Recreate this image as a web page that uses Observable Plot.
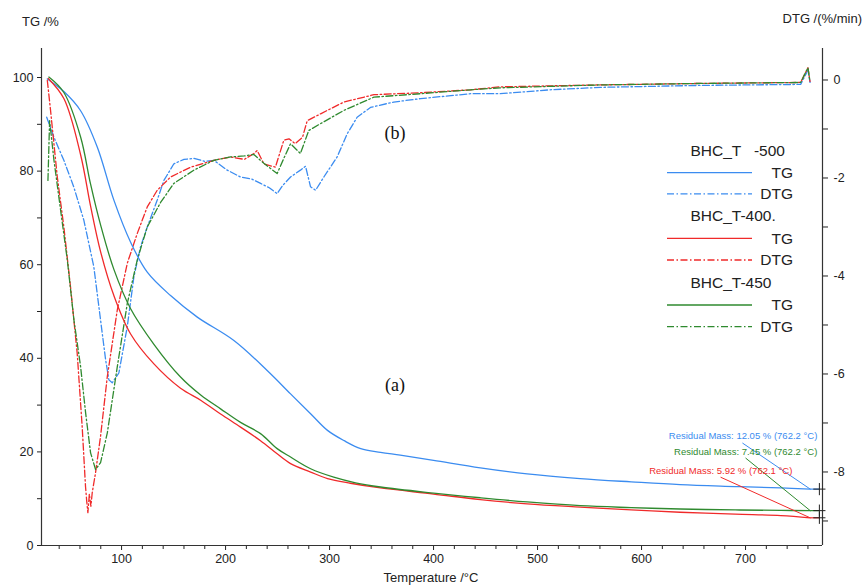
<!DOCTYPE html>
<html><head><meta charset="utf-8">
<script src="https://cdn.jsdelivr.net/npm/d3@7"></script>
<script src="https://cdn.jsdelivr.net/npm/@observablehq/plot@0.6"></script>
<style>
body{margin:0;background:#fff;}
#chart{width:865px;height:585px;}
</style></head><body><div id="chart"></div>
<script>
// ---- Data ----
const seriesNames = ["BHC_T   -500", "BHC_T-400.", "BHC_T-450"];
const seriesColors = ["#3b8cf0", "#f02a2a", "#2f8a2f"];

// TG curves (%), temperature in °C
const tgBlueT = [28.6, 44.5, 60.6, 76.7, 92.6, 108.7, 124.7, 147.1, 172.8, 208, 240, 262.5, 282, 298, 314, 330, 349, 368, 400, 445, 490, 541, 590, 637, 690, 734, 762.2];
const tgBlue  = [99.7, 97.0, 92.9, 85.1, 73.8, 64.8, 58.4, 53.4, 48.8, 43.8, 37.4, 32.4, 28.1, 24.6, 22.4, 20.7, 19.9, 19.3, 18.2, 16.6, 15.3, 14.3, 13.6, 13.0, 12.6, 12.3, 12.05];
const tgRedT  = [29.5, 44.5, 60.6, 70.2, 79.8, 92.6, 108.7, 131.1, 156.7, 176.4, 195.2, 214.4, 233.6, 249.6, 262.5, 281.8, 298, 320, 349, 400, 445, 490, 541, 590, 637, 690, 734, 762.1];
const tgRed   = [99.8, 95.5, 83.5, 72.5, 62.8, 53.4, 45.2, 38.8, 33.6, 31.0, 28.1, 25.3, 22.4, 19.6, 17.5, 15.7, 14.3, 13.3, 12.3, 11.0, 9.8, 8.9, 8.2, 7.6, 7.1, 6.7, 6.4, 5.92];
const tgGreenT = [30.1, 44.5, 60.6, 70.2, 79.8, 92.6, 108.7, 131.1, 156.7, 176.4, 195.2, 214.4, 233.6, 249.6, 262.5, 281.8, 304, 325, 349, 400, 445, 490, 541, 590, 637, 690, 734, 762.2];
const tgGreen  = [100.1, 96.8, 87.3, 77.2, 68.5, 59.0, 50.6, 43.0, 36.0, 32.1, 29.2, 26.3, 23.9, 20.7, 18.9, 16.4, 14.6, 13.4, 12.5, 11.2, 10.2, 9.3, 8.5, 8.1, 7.8, 7.6, 7.5, 7.45];

// DTG curves (%/min)
const dtgBlueT = [28, 35, 44.5, 54, 63.7, 73.3, 79.8, 84.6, 87.8, 91, 97.4, 105.5, 111.9, 118.3, 124.7, 134.3, 140.7, 150.3, 160, 169.5, 180, 188.8, 201.6, 214.4, 225, 233.7, 242, 249.6, 255, 262.5, 272, 276.9, 281.7, 286.6, 294.5, 307.3, 316.9, 326.5, 339.3, 361.7, 387.5, 435.6, 464, 512, 561, 657, 753, 760, 762];
const dtgBlue  = [-0.76, -1.17, -1.64, -2.18, -2.86, -3.81, -4.9, -5.7, -6.12, -6.18, -5.98, -5.03, -4.01, -3.4, -3.0, -2.45, -2.05, -1.71, -1.62, -1.6, -1.66, -1.64, -1.84, -1.98, -2.02, -2.11, -2.2, -2.32, -2.15, -1.98, -1.84, -1.76, -2.18, -2.25, -1.98, -1.57, -1.1, -0.76, -0.56, -0.45, -0.38, -0.28, -0.28, -0.2, -0.15, -0.11, -0.09, 0.2, -0.05];
const dtgRedT = [28.6, 31.7, 38.2, 44.5, 50.9, 57.3, 62.1, 65.3, 66.5, 67.6, 69, 70.5, 71.8, 75, 79.8, 86.3, 95.9, 105.5, 115.1, 124.7, 134.3, 147.1, 166.3, 188.8, 204.8, 218, 227.2, 230.4, 236.8, 247.9, 256, 261, 267, 274, 278.5, 291.4, 313.8, 342.7, 387.5, 435.6, 464, 512, 561, 657, 753, 760, 762];
const dtgRed  = [-0.01, -0.62, -1.98, -3.0, -4.22, -5.57, -7.07, -8.29, -8.6, -8.83, -8.45, -8.7, -8.42, -8.01, -7.27, -6.05, -4.69, -3.74, -3.13, -2.59, -2.25, -1.98, -1.78, -1.64, -1.57, -1.62, -1.5, -1.44, -1.71, -1.78, -1.23, -1.2, -1.3, -1.17, -0.83, -0.69, -0.45, -0.3, -0.26, -0.2, -0.14, -0.12, -0.1, -0.07, -0.05, 0.25, -0.03];
const dtgGreenT = [29.2, 30.8, 35, 41.4, 47.8, 54.2, 60.6, 65.4, 70.2, 75, 79.8, 86.3, 95.9, 105.5, 115.1, 124.7, 137.5, 150.3, 169.5, 188.8, 204.8, 218, 227.2, 236.8, 249.6, 256, 262.5, 272, 280, 291.4, 313.8, 342.7, 387.5, 435.6, 464, 512, 561, 657, 753, 760, 762];
const dtgGreen  = [-2.05, -0.83, -1.64, -2.66, -3.67, -4.9, -5.85, -6.79, -7.61, -7.95, -7.81, -7.2, -5.85, -4.56, -3.67, -3.0, -2.5, -2.11, -1.84, -1.64, -1.57, -1.55, -1.52, -1.7, -1.91, -1.6, -1.3, -1.5, -1.03, -0.89, -0.62, -0.35, -0.28, -0.2, -0.16, -0.13, -0.1, -0.07, -0.05, 0.25, -0.03];

// Residual mass annotations
const residualLabels = ["Residual Mass: 12.05 % (762.2 °C)", "Residual Mass: 5.92 % (762.1 °C)", "Residual Mass: 7.45 % (762.2 °C)"];
const residualT = [762.2, 762.1, 762.2];
const residualMass = [12.05, 5.92, 7.45];
const residualTextT = [769, 745, 769];
const residualTextY = [23.4, 15.9, 19.9];
const residualLeadT = [697, 676, 700];
const residualLeadY = [21.9, 14.6, 18.7];
const residualMarkT = 771;

// Ticks
const xMajor = [100, 200, 300, 400, 500, 600, 700];
const xMinor = d3.range(40, 761, 20).filter(v => v % 100 !== 0);
const yMajor = [0, 20, 40, 60, 80, 100];
const yMinor = [10, 30, 50, 70, 90];
const dtgMajor = [0, -2, -4, -6, -8];
const dtgMinor = [-1, -3, -5, -7, -9];

// DTG (right axis) -> left-axis equivalent
const toEq = d => 99.47 + 10.47 * d;
const fromEq = v => (v - 99.47) / 10.47;

const zip = (T, V) => T.map((t, i) => ({T: t, v: V[i]}));
const tgSets = [zip(tgBlueT, tgBlue), zip(tgRedT, tgRed), zip(tgGreenT, tgGreen)];
const dtgSets = [zip(dtgBlueT, dtgBlue), zip(dtgRedT, dtgRed), zip(dtgGreenT, dtgGreen)];
const resid = residualLabels.map((l, i) => ({
  label: l, color: seriesColors[i], T: residualT[i], m: residualMass[i],
  tT: residualTextT[i], tY: residualTextY[i], lT: residualLeadT[i], lY: residualLeadY[i]
}));

const font = "Liberation Sans, Arial, sans-serif";
const dash = "7,2.5,1.5,2.5";

const marks = [
  Plot.axisX(xMajor, {tickSize: 5, tickPadding: 4, label: null, fontSize: 12.5}),
  Plot.axisX(xMinor, {tickSize: 4, text: null, label: null}),
  Plot.axisY(yMajor, {anchor: "left", tickSize: 4, tickPadding: 4, label: null, fontSize: 12.5}),
  Plot.axisY(yMinor, {anchor: "left", tickSize: 4, text: null, label: null}),
  Plot.axisY(dtgMajor.map(toEq), {anchor: "right", tickSize: 5, tickPadding: 6, label: null, fontSize: 12.5,
    tickFormat: v => String(Math.round(fromEq(v)) || 0)}),
  Plot.axisY(dtgMinor.map(toEq), {anchor: "right", tickSize: 5, text: null, label: null}),
  Plot.ruleX([23, 774], {stroke: "#333", strokeWidth: 1.2}),
  Plot.ruleY([0], {stroke: "#333", strokeWidth: 1.2})
];
seriesColors.forEach((c, i) => {
  marks.push(Plot.line(dtgSets[i], {x: "T", y: d => toEq(d.v), stroke: c, strokeWidth: 1.3, strokeDasharray: dash}));
});
seriesColors.forEach((c, i) => {
  marks.push(Plot.line(tgSets[i], {x: "T", y: "v", stroke: c, strokeWidth: 1.3, curve: "catmull-rom"}));
});
marks.push(
  Plot.link(resid, {x1: "T", y1: "m", x2: residualMarkT, y2: "m", stroke: "color", strokeWidth: 1.2}),
  Plot.link(resid, {x1: "lT", y1: "lY", x2: "T", y2: "m", stroke: "color", strokeWidth: 1}),
  Plot.text(resid, {x: "tT", y: "tY", text: "label", fill: "color", textAnchor: "end", fontSize: 9.5}),
  Plot.dot(resid, {x: residualMarkT, y: "m", symbol: "plus", r: 4, stroke: "#222", strokeWidth: 1}),
  Plot.text(["(a)"], {x: 363, y: 34.2, text: d => d, fontSize: 18, fontFamily: "Liberation Serif, Times New Roman, serif", fill: "#111"}),
  Plot.text(["(b)"], {x: 363, y: 88, text: d => d, fontSize: 18, fontFamily: "Liberation Serif, Times New Roman, serif", fill: "#111"})
);

const plot = Plot.plot({
  width: 865, height: 585,
  marginLeft: 41, marginRight: 43, marginTop: 48, marginBottom: 40,
  x: {domain: [23, 774]},
  y: {domain: [0, 106.2]},
  color: {type: "identity"},
  style: {fontFamily: font, fontSize: "12.5px", color: "#222", background: "#fff", overflow: "visible"},
  marks
});
document.getElementById("chart").appendChild(plot);

// Axis titles and legend
const svg = d3.select(plot);
const ttl = svg.append("g").attr("font-family", font).attr("font-size", 13).attr("fill", "#222");
ttl.append("text").attr("x", 22).attr("y", 21).attr("dy", "0.35em").attr("text-anchor", "start").text("TG /%");
ttl.append("text").attr("x", 862).attr("y", 18).attr("dy", "0.35em").attr("text-anchor", "end").text("DTG /(%/min)");
ttl.append("text").attr("x", 431).attr("y", 577).attr("dy", "0.35em").attr("text-anchor", "middle").text("Temperature /°C");

const lg = svg.append("g").attr("font-family", font).attr("font-size", 15.5).attr("fill", "#222");
const rowsY = [[150.7, 172.7, 193.8], [216, 238.3, 260], [282.7, 305, 326.7]];
seriesNames.forEach((n, i) => {
  const [hy, ty, dy] = rowsY[i];
  lg.append("text").attr("x", 690.5).attr("y", hy).attr("dy", "0.35em").attr("text-anchor", "start").style("white-space", "pre").text(n);
  lg.append("line").attr("x1", 667).attr("x2", 752).attr("y1", ty).attr("y2", ty).attr("stroke", seriesColors[i]).attr("stroke-width", 1.3);
  lg.append("text").attr("x", 793).attr("y", ty).attr("dy", "0.35em").attr("text-anchor", "end").text("TG");
  lg.append("line").attr("x1", 667).attr("x2", 752).attr("y1", dy).attr("y2", dy).attr("stroke", seriesColors[i]).attr("stroke-width", 1.3).attr("stroke-dasharray", dash);
  lg.append("text").attr("x", 793).attr("y", dy).attr("dy", "0.35em").attr("text-anchor", "end").text("DTG");
});
</script></body></html>
